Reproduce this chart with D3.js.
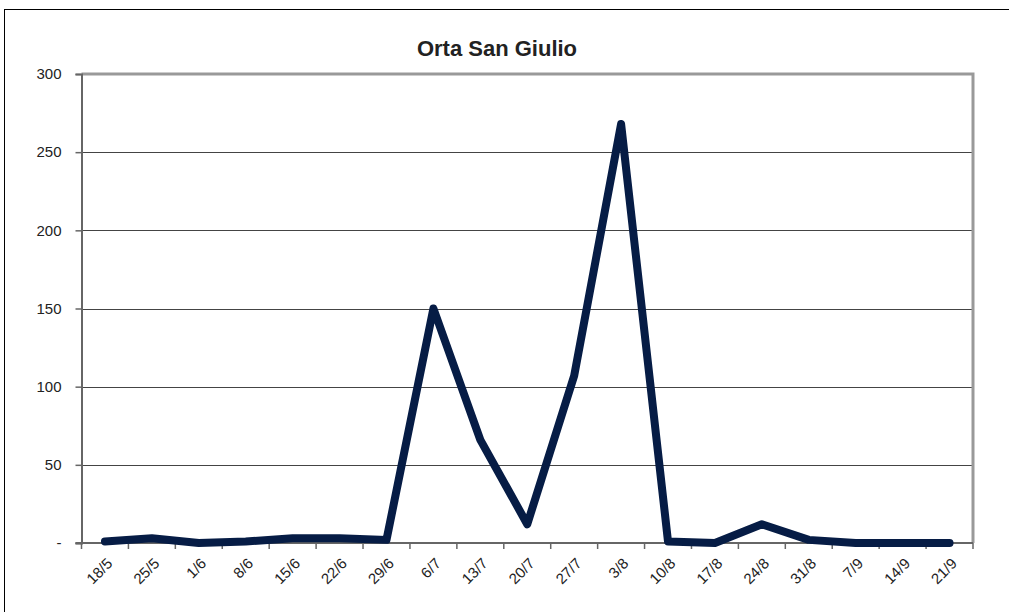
<!DOCTYPE html>
<html>
<head>
<meta charset="utf-8">
<script src="https://d3js.org/d3.v7.min.js"></script>
<style>
  body { margin: 0; background: #fff; }
  text { font-family: "Liberation Sans", Arial, sans-serif; }
</style>
</head>
<body>
<script>
// week labels and values
const weeks = ["18/5", "25/5", "1/6", "8/6", "15/6", "22/6", "29/6", "6/7", "13/7", "20/7",
               "27/7", "3/8", "10/8", "17/8", "24/8", "31/8", "7/9", "14/9", "21/9"];
const counts = [1, 3, 0, 1, 3, 3, 2, 150, 66, 12, 107, 268, 1, 0, 12, 2, 0, 0, 0];
const yTicks = [0, 50, 100, 150, 200, 250, 300];

const width = 1009, height = 612;
const plotLeft = 81.5, plotRight = 973, plotTop = 74, plotBottom = 543;

const svg = d3.select("body").append("svg")
  .attr("width", width)
  .attr("height", height);

// outer chart border
svg.append("rect")
  .attr("x", 4.5).attr("y", 9.5)
  .attr("width", 1030).attr("height", 640)
  .attr("fill", "none").attr("stroke", "#000").attr("stroke-width", 1);

svg.append("text")
  .attr("x", 497).attr("y", 56)
  .attr("text-anchor", "middle")
  .style("font-size", "22px").style("font-weight", "bold")
  .attr("fill", "#222")
  .text("Orta San Giulio");

const x = d3.scaleBand().domain(weeks).range([plotLeft, plotRight]);
const y = d3.scaleLinear().domain([0, 300]).range([plotBottom, plotTop]);

// gridlines
svg.append("g").selectAll("line")
  .data(yTicks.filter(d => d > 0 && d < 300))
  .join("line")
  .attr("x1", plotLeft).attr("x2", plotRight)
  .attr("y1", d => Math.round(y(d)) + 0.5).attr("y2", d => Math.round(y(d)) + 0.5)
  .attr("stroke", "#444").attr("stroke-width", 1);

// top and right frame
svg.append("path")
  .attr("d", `M${plotLeft},${plotTop}H${plotRight}V${plotBottom}`)
  .attr("fill", "none").attr("stroke", "#999").attr("stroke-width", 3);

// y axis
const yAxis = svg.append("g")
  .attr("transform", `translate(${plotLeft},0)`)
  .call(d3.axisLeft(y).tickValues(yTicks).tickSize(6).tickPadding(14)
    .tickFormat(d => d === 0 ? "-" : d));
yAxis.select(".domain").attr("stroke", "#666").attr("stroke-width", 2);
yAxis.selectAll(".tick line").attr("stroke", "#666").attr("stroke-width", 1.5);
yAxis.selectAll("text").style("font-size", "15px").attr("fill", "#222")
  .attr("font-family", "Liberation Sans, Arial, sans-serif");

// x axis: ticks at category boundaries, labels at centres
const xg = svg.append("g").attr("transform", `translate(0,${plotBottom})`);
xg.append("line").attr("x1", plotLeft - 6).attr("x2", plotRight)
  .attr("stroke", "#666").attr("stroke-width", 2);
xg.selectAll(".tk")
  .data(weeks.concat(["end"]))
  .join("line")
  .attr("class", "tk")
  .attr("x1", (d, i) => plotLeft + i * x.bandwidth())
  .attr("x2", (d, i) => plotLeft + i * x.bandwidth())
  .attr("y1", 0).attr("y2", 6)
  .attr("stroke", "#666").attr("stroke-width", 1.5);
xg.selectAll(".lbl")
  .data(weeks)
  .join("text")
  .attr("class", "lbl")
  .attr("text-anchor", "end")
  .attr("transform", d => `translate(${x(d) + x.bandwidth() / 2 + 1},${14}) rotate(-45)`)
  .attr("dy", "0.7em")
  .style("font-size", "15px").attr("fill", "#222")
  .text(d => d);

// data line
const line = d3.line()
  .x((d, i) => x(weeks[i]) + x.bandwidth() / 2)
  .y(d => y(d));

svg.append("path")
  .datum(counts)
  .attr("d", line)
  .attr("fill", "none")
  .attr("stroke", "#061c45")
  .attr("stroke-width", 8)
  .attr("stroke-linejoin", "round")
  .attr("stroke-linecap", "round");
</script>
</body>
</html>
